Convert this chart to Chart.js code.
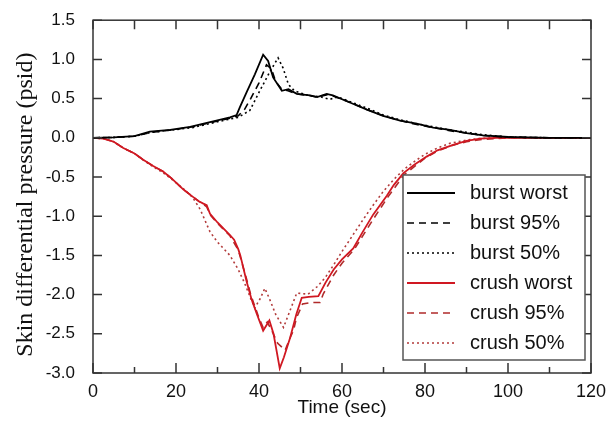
<!DOCTYPE html>
<html lang="en">
<head>
<meta charset="UTF-8">
<title>Skin differential pressure</title>
<script src="https://cdn.jsdelivr.net/npm/chart.js@4.4.0/dist/chart.umd.min.js"></script>
<style>
  html, body { margin: 0; padding: 0; background: #fff; }
  #wrap { width: 610px; height: 421px; }
</style>
</head>
<body>
<div id="wrap"><canvas id="skinChart" width="610" height="421"></canvas></div>
<script>
// time (sec) and pressure (psid)
const burstWorstT = [0, 5, 10, 13.7, 18.6, 23.4, 28.2, 33, 34.6, 35.4, 37, 39, 41, 42.2, 43.4, 45.5, 47.1, 49.1, 52.3, 54, 56.3, 57.8, 61.9, 66, 69.9, 74, 78, 82, 86, 90, 94, 100, 110, 120];
const burstWorstP = [0, 0.005, 0.02, 0.08, 0.10, 0.14, 0.20, 0.26, 0.29, 0.39, 0.58, 0.81, 1.06, 0.98, 0.77, 0.60, 0.62, 0.56, 0.54, 0.52, 0.56, 0.54, 0.45, 0.36, 0.28, 0.22, 0.18, 0.13, 0.10, 0.06, 0.03, 0.01, 0, 0];

const burst95T = [0, 5, 10, 14, 19, 24, 28, 33, 35, 36.5, 38, 40, 41.8, 43, 44, 45.5, 47, 49, 52, 54, 56.5, 58, 62, 66, 70, 74, 78, 82, 86, 90, 94, 100, 110, 120];
const burst95P = [0, 0.005, 0.02, 0.07, 0.10, 0.14, 0.19, 0.25, 0.28, 0.36, 0.50, 0.70, 0.93, 0.88, 0.72, 0.62, 0.60, 0.56, 0.54, 0.52, 0.55, 0.53, 0.45, 0.36, 0.28, 0.22, 0.17, 0.13, 0.09, 0.06, 0.03, 0.01, 0, 0];

const burst50T = [0, 5, 10, 14, 19, 24, 28, 33, 35, 37.8, 40.2, 42.7, 44.6, 45.8, 47.1, 48.5, 50, 52, 55, 57, 59, 62, 66, 70, 74, 78, 82, 86, 90, 94, 100, 110, 120];
const burst50P = [0, 0.005, 0.02, 0.07, 0.10, 0.13, 0.18, 0.24, 0.26, 0.35, 0.60, 0.85, 1.02, 0.89, 0.68, 0.60, 0.57, 0.54, 0.52, 0.49, 0.52, 0.46, 0.38, 0.29, 0.23, 0.18, 0.14, 0.10, 0.07, 0.04, 0.01, 0, 0];

const crushWorstT = [0, 2.5, 5, 7.3, 10, 12.1, 14.5, 16.9, 19, 21.8, 24, 25.5, 26.6, 27.4, 28.2, 30, 33, 34, 35, 35.5, 37, 38.2, 39.5, 41, 42.5, 43.5, 45, 46, 47.5, 49, 50.3, 52, 54.3, 56, 58, 60, 62.7, 65, 67.5, 70.8, 72.5, 74.8, 77.5, 80.4, 83, 86.8, 90, 93.3, 97, 100, 110, 120];
const crushWorstP = [0, -0.01, -0.05, -0.13, -0.20, -0.28, -0.36, -0.43, -0.52, -0.66, -0.75, -0.81, -0.84, -0.86, -0.97, -1.08, -1.24, -1.30, -1.42, -1.50, -1.83, -2.06, -2.25, -2.46, -2.33, -2.50, -2.94, -2.80, -2.55, -2.25, -2.04, -2.03, -2.02, -1.85, -1.68, -1.55, -1.41, -1.20, -0.98, -0.74, -0.60, -0.45, -0.34, -0.24, -0.16, -0.09, -0.04, -0.01, 0, 0, 0, 0];

const crush95T = [0, 2.5, 5, 7.3, 10, 12.1, 14.5, 16.9, 19, 21.8, 24, 25.5, 26.6, 27.4, 28.2, 30, 33, 35, 37, 38, 40, 41, 42, 43, 44.5, 46.3, 47.5, 48.3, 49, 50.5, 52.7, 54.7, 55.5, 58, 60, 63, 65, 68, 71, 75, 80, 83, 87, 90, 94, 97, 100, 110, 120];
const crush95P = [0, -0.01, -0.05, -0.13, -0.20, -0.28, -0.36, -0.43, -0.52, -0.66, -0.75, -0.81, -0.85, -0.88, -0.98, -1.09, -1.25, -1.43, -1.80, -2.00, -2.30, -2.42, -2.35, -2.45, -2.62, -2.71, -2.55, -2.46, -2.30, -2.12, -2.10, -2.10, -1.99, -1.75, -1.60, -1.42, -1.25, -1.00, -0.76, -0.47, -0.26, -0.17, -0.09, -0.05, -0.02, -0.01, 0, 0, 0];

const crush50T = [0, 2.5, 5, 7.3, 10, 12, 14.5, 17, 19, 22, 24, 25.8, 28.2, 30, 33, 35, 36.5, 38, 39, 40.3, 41.4, 42.5, 44, 45.9, 47.5, 49.1, 51.8, 54, 56, 58, 60, 62.5, 65, 67.5, 70, 72.5, 75, 77.5, 80, 83, 86, 90, 93, 97, 100, 110, 120];
const crush50P = [0, -0.01, -0.05, -0.13, -0.20, -0.28, -0.37, -0.45, -0.53, -0.66, -0.76, -0.91, -1.20, -1.33, -1.50, -1.68, -1.85, -2.05, -2.17, -2.05, -1.92, -2.05, -2.25, -2.42, -2.20, -1.98, -1.995, -1.90, -1.78, -1.62, -1.45, -1.25, -1.05, -0.86, -0.68, -0.53, -0.40, -0.30, -0.21, -0.13, -0.07, -0.03, -0.01, 0, 0, 0, 0];

const seriesLabels = ['burst worst', 'burst 95%', 'burst 50%', 'crush worst', 'crush 95%', 'crush 50%'];
const xTicks = [0, 20, 40, 60, 80, 100, 120];
const xMinorTicks = [10, 30, 50, 70, 90, 110];
const yTicks = [1.5, 1.0, 0.5, 0.0, -0.5, -1.0, -1.5, -2.0, -2.5, -3.0];
const yTitle = 'Skin differential pressure (psid)';

function pts(t, p) {
  return t.map((v, i) => ({ x: v, y: p[i] }));
}

// inward ticks on all four sides + the frame + rotated y title
const frameTicks = {
  id: 'frameTicks',
  afterDraw(chart) {
    const { ctx, chartArea: a, scales: { x, y } } = chart;
    ctx.save();
    ctx.strokeStyle = '#333';
    ctx.lineWidth = 1.5;
    ctx.strokeRect(a.left, a.top, a.right - a.left, a.bottom - a.top);
    ctx.beginPath();
    xTicks.forEach(v => {
      const px = x.getPixelForValue(v);
      ctx.moveTo(px, a.bottom); ctx.lineTo(px, a.bottom - 10);
      ctx.moveTo(px, a.top); ctx.lineTo(px, a.top + 9);
    });
    xMinorTicks.forEach(v => {
      const px = x.getPixelForValue(v);
      ctx.moveTo(px, a.bottom); ctx.lineTo(px, a.bottom - 6);
      ctx.moveTo(px, a.top); ctx.lineTo(px, a.top + 9);
    });
    yTicks.forEach(v => {
      const py = y.getPixelForValue(v);
      ctx.moveTo(a.left, py); ctx.lineTo(a.left + 9, py);
      ctx.moveTo(a.right, py); ctx.lineTo(a.right - 9, py);
    });
    ctx.stroke();

    ctx.translate(26, (a.top + a.bottom) / 2 + 8);
    ctx.rotate(-Math.PI / 2);
    ctx.fillStyle = '#111';
    ctx.font = '24px "Liberation Serif", "Times New Roman", serif';
    ctx.textAlign = 'center';
    ctx.textBaseline = 'middle';
    ctx.fillText(yTitle, 0, 0);
    ctx.restore();
  }
};

// boxed legend in the lower right of the plot
const boxLegend = {
  id: 'boxLegend',
  afterDraw(chart) {
    const { ctx } = chart;
    const left = 403, top = 175, w = 182, h = 185, rowH = 30;
    ctx.save();
    ctx.fillStyle = '#fff';
    ctx.fillRect(left, top, w, h);
    ctx.strokeStyle = '#555';
    ctx.lineWidth = 1.5;
    ctx.strokeRect(left, top, w, h);
    chart.data.datasets.forEach((ds, i) => {
      const cy = top + 18 + i * rowH;
      ctx.beginPath();
      ctx.setLineDash(ds.borderDash || []);
      ctx.strokeStyle = ds.borderColor;
      ctx.lineWidth = ds.borderWidth;
      ctx.moveTo(407, cy);
      ctx.lineTo(455, cy);
      ctx.stroke();
      ctx.setLineDash([]);
      ctx.fillStyle = '#111';
      ctx.font = '20px "Liberation Sans", Arial, sans-serif';
      ctx.textBaseline = 'middle';
      ctx.fillText(ds.label, 470, cy);
    });
    ctx.restore();
  }
};

const ctx = document.getElementById('skinChart');
new Chart(ctx, {
  type: 'line',
  data: {
    datasets: [
      { label: seriesLabels[0], data: pts(burstWorstT, burstWorstP), borderColor: '#000', borderWidth: 1.8 },
      { label: seriesLabels[1], data: pts(burst95T, burst95P), borderColor: '#000', borderWidth: 1.6, borderDash: [7, 5] },
      { label: seriesLabels[2], data: pts(burst50T, burst50P), borderColor: '#000', borderWidth: 1.6, borderDash: [2, 3] },
      { label: seriesLabels[3], data: pts(crushWorstT, crushWorstP), borderColor: '#d01822', borderWidth: 1.8 },
      { label: seriesLabels[4], data: pts(crush95T, crush95P), borderColor: '#b02a2a', borderWidth: 1.6, borderDash: [7, 5] },
      { label: seriesLabels[5], data: pts(crush50T, crush50P), borderColor: '#b23a3a', borderWidth: 1.6, borderDash: [2, 3] }
    ]
  },
  options: {
    responsive: false,
    animation: false,
    elements: { point: { radius: 0 }, line: { tension: 0 } },
    layout: { padding: { left: 0, right: 19, top: 15, bottom: 0 } },
    plugins: { legend: { display: false }, tooltip: { enabled: false } },
    scales: {
      x: {
        type: 'linear', min: 0, max: 120,
        grid: { display: false }, border: { display: false },
        afterBuildTicks: s => { s.ticks = xTicks.map(v => ({ value: v })); },
        afterFit: s => { s.height = 48; },
        ticks: { color: '#111', padding: 0, maxRotation: 0, font: { family: '"Liberation Sans", Arial, sans-serif', size: 18 } },
        title: { display: true, text: 'Time (sec)', color: '#111', padding: { top: 0, bottom: 2 }, font: { family: '"Liberation Sans", Arial, sans-serif', size: 19 } }
      },
      y: {
        min: -3, max: 1.5,
        grid: { display: false }, border: { display: false },
        afterBuildTicks: s => { s.ticks = yTicks.map(v => ({ value: v })); },
        afterFit: s => { s.width = 93; },
        ticks: { color: '#111', padding: 10, callback: v => v.toFixed(1), font: { family: '"Liberation Sans", Arial, sans-serif', size: 17 } },
        title: { display: false }
      }
    }
  },
  plugins: [frameTicks, boxLegend]
});
</script>
</body>
</html>
